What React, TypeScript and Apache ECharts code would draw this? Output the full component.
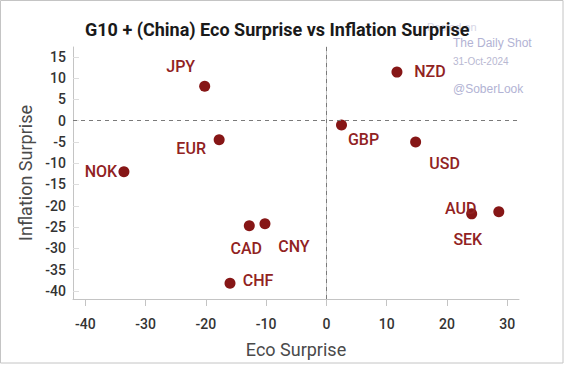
import React, { useEffect, useRef } from "react";
import * as echarts from "echarts";

const currencies = ["JPY", "EUR", "NOK", "CAD", "CNY", "CHF", "NZD", "GBP", "USD", "AUD", "SEK"];
const ecoSurprise = [-20.2, -17.8, -33.6, -12.8, -10.2, -16.0, 11.7, 2.5, 14.8, 24.1, 28.6];
const inflationSurprise = [8.1, -4.5, -12.0, -24.7, -24.2, -38.2, 11.4, -1.0, -5.0, -21.9, -21.4];
const xTicks = [-40, -30, -20, -10, 0, 10, 20, 30];
const yTicks = [15, 10, 5, 0, -5, -10, -15, -20, -25, -30, -35, -40];

// label placement (layout only), pixel offsets from each point
const labelOffsets: Record<string, [number, number]> = {
  JPY: [-24, -20],
  EUR: [-28, 9],
  NOK: [-23, 0],
  CAD: [-3, 23],
  CNY: [29, 23],
  CHF: [28, -3],
  NZD: [33, -1],
  GBP: [22, 15],
  USD: [29, 22],
  AUD: [-11, -5],
  SEK: [-31, 28],
};

export default function App() {
  const ref = useRef<HTMLDivElement>(null);
  useEffect(() => {
    if (!ref.current) return;
    const chart = echarts.init(ref.current, null, { renderer: "svg" });
    const data = currencies.map((c, i) => ({
      name: c,
      value: [ecoSurprise[i], inflationSurprise[i]],
      label: { offset: labelOffsets[c] },
    }));
    const font = "Roboto, 'Noto Sans', sans-serif";
    chart.setOption({
      animation: false,
      backgroundColor: "#ffffff",
      textStyle: { fontFamily: font },
      title: {
        text: "G10 + (China) Eco Surprise vs Inflation Surprise",
        left: 85,
        top: 20,
        padding: 0,
        z: 10,
        textStyle: { fontFamily: font, fontSize: 18, fontWeight: "bold", color: "#1a1a1a" },
      },
      grid: { left: 73, right: 45, top: 47, bottom: 66 },
      xAxis: {
        type: "value",
        min: -42.05,
        max: 31.95,
        name: "Eco Surprise",
        nameLocation: "middle",
        nameGap: 41,
        nameTextStyle: { fontFamily: font, fontSize: 18, color: "#4a4a4a" },
        axisLine: { show: true, onZero: false, lineStyle: { color: "#c4c4c4", width: 1 } },
        axisTick: { show: true, length: 7, customValues: xTicks, lineStyle: { color: "#c4c4c4" } },
        axisLabel: { customValues: xTicks, margin: 18, fontSize: 14, fontWeight: 500, color: "#333", fontFamily: font },
        splitLine: { show: false },
      },
      yAxis: [
        {
          type: "value",
          min: -41.9,
          max: 17.3,
          name: "Inflation Surprise",
          nameLocation: "middle",
          nameGap: 36,
          nameTextStyle: { fontFamily: font, fontSize: 18, color: "#4a4a4a" },
          axisLine: { show: true, onZero: false, lineStyle: { color: "#c4c4c4", width: 1 } },
          axisTick: { show: true, inside: true, length: 6, customValues: yTicks, lineStyle: { color: "#dddddd" } },
          axisLabel: { customValues: yTicks, margin: 7, fontSize: 14, fontWeight: 500, color: "#333", fontFamily: font },
          splitLine: { show: false },
        },
        {
          type: "value",
          position: "right",
          axisLine: { show: true, lineStyle: { color: "#c4c4c4", width: 1 } },
          axisTick: { show: false },
          axisLabel: { show: false },
          splitLine: { show: false },
        },
      ],
      graphic: [
        {
          type: "rect",
          shape: { x: 0.5, y: 0.5, width: 562.5, height: 362.5 },
          style: { fill: "none", stroke: "#c4c4c4", lineWidth: 1 },
          silent: true,
          z: -1,
        },
        {
          type: "text",
          x: 427,
          y: 27,
          z: 1,
          style: { text: "Posted on", fontFamily: "'Liberation Sans', Arial, sans-serif", fontSize: 11, fill: "#d6d6e6", verticalAlign: "middle" },
        },
        {
          type: "text",
          x: 453,
          y: 43,
          style: { text: "The Daily Shot", fontFamily: "'Liberation Sans', Arial, sans-serif", fontSize: 12, fill: "#b2b3d4", verticalAlign: "middle" },
        },
        {
          type: "text",
          x: 453,
          y: 61,
          style: { text: "31-Oct-2024", fontFamily: "'Liberation Sans', Arial, sans-serif", fontSize: 10, fill: "#b8b8d2", verticalAlign: "middle" },
        },
        {
          type: "text",
          x: 453,
          y: 89,
          style: { text: "@SoberLook", fontFamily: "'Liberation Sans', Arial, sans-serif", fontSize: 12, fill: "#b2b3d4", verticalAlign: "middle" },
        },
      ],
      series: [
        {
          type: "scatter",
          symbol: "circle",
          symbolSize: 11,
          itemStyle: { color: "#861616", opacity: 1 },
          data,
          label: {
            show: true,
            position: "inside",
            formatter: "{b}",
            fontFamily: font,
            fontSize: 16,
            fontWeight: 500,
            color: "#912222",
            align: "center",
            verticalAlign: "middle",
          },
          markLine: {
            silent: true,
            symbol: "none",
            label: { show: false },
            lineStyle: { type: [4, 4], color: "#7a7a7a", width: 1 },
            data: [{ xAxis: 0 }, { yAxis: 0 }],
          },
        },
      ],
    });
    return () => chart.dispose();
  }, []);
  return <div ref={ref} style={{ position: "fixed", left: 0, top: 0, width: 564, height: 365 }} />;
}
